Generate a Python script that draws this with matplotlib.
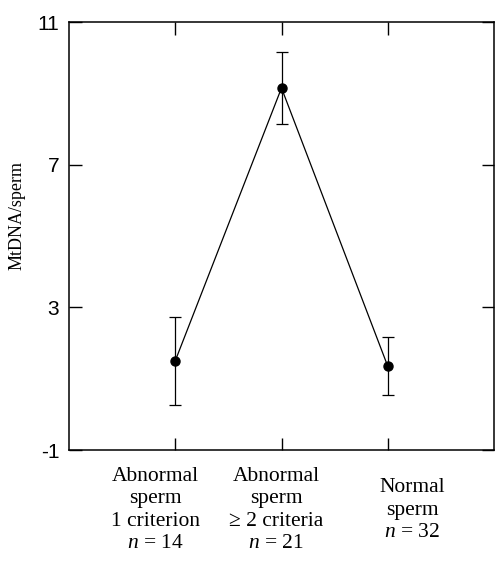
import matplotlib
matplotlib.use('Agg')
import matplotlib.pyplot as plt
import matplotlib.transforms as mtransforms

plt.rcParams['axes.unicode_minus'] = False
plt.rcParams['mathtext.fontset'] = 'custom'
plt.rcParams['mathtext.it'] = 'Liberation Serif:italic'
plt.rcParams['mathtext.rm'] = 'Liberation Serif'

# data
groups = ["Abnormal\nsperm\n1 criterion\n$n$ = 14",
          "Abnormal\nsperm\n\u2265 2 criteria\n$n$ = 21",
          "Normal\nsperm\n$n$ = 32"]
x_pos = [1, 2, 3]
mtdna = [1.5, 9.15, 1.35]
err = [1.23, 1.0, 0.81]
y_ticks = [-1, 3, 7, 11]

# where the group captions sit (the original is not centered on the ticks)
label_x = [0.81, 1.95, 3.23]

W, H = 495, 562
fig = plt.figure(figsize=(W / 100, H / 100), dpi=100)
ax = fig.add_axes([69 / W, 1 - 450 / H, (494 - 69) / W, (450 - 22) / H])

ax.errorbar(x_pos, mtdna, yerr=err, color='black', lw=0.9, elinewidth=0.9,
            capsize=4, capthick=0.9, marker='o', markersize=6.5)

ax.set_xlim(0, 4)
ax.set_ylim(-1, 11)
ax.set_yticks(y_ticks)
ax.set_xticks(x_pos)
ax.set_xticklabels([])
ax.tick_params(axis='both', direction='in', length=9, width=1, top=True,
               right=True, labelsize=15, pad=7)
ax.tick_params(axis='x', length=9, pad=0)
for lab in ax.get_yticklabels():
    lab.set_fontfamily('Liberation Sans')
for s in ax.spines.values():
    s.set_linewidth(1.1)

serif = 'Liberation Serif'
fig.text(17 / W, 1 - 215 / H, "MtDNA/sperm", rotation=90, ha='center',
         va='center', fontsize=13, family=serif)

trans = mtransforms.blended_transform_factory(ax.transData, fig.transFigure)
for xl, g in zip(label_x, groups):
    ax.text(xl, 1 - 510 / H, g, transform=trans, ha='center', va='center',
            multialignment='center', fontsize=15.5, family=serif,
            linespacing=1.24)

fig.savefig('out.png', dpi=100)
